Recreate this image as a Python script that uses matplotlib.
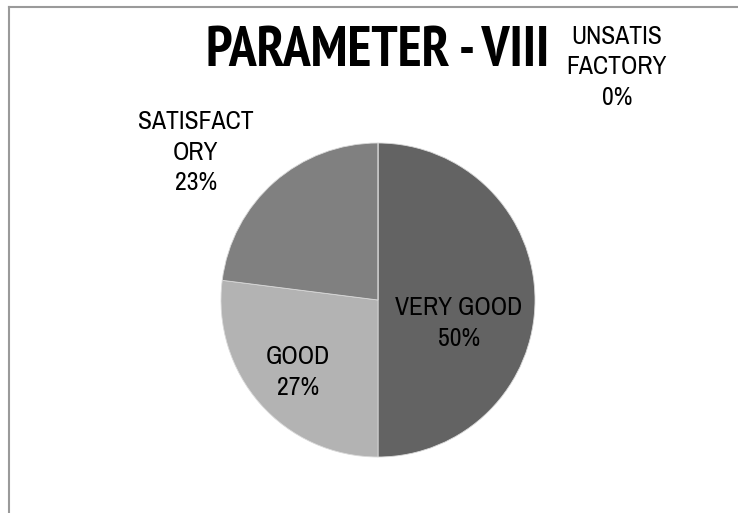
import matplotlib
matplotlib.use("Agg")
import matplotlib.pyplot as plt
from matplotlib.lines import Line2D

plt.rcParams['font.family'] = ['Archivo Narrow', 'PT Sans Narrow', 'Liberation Sans', 'DejaVu Sans']

title = "PARAMETER - VIII"
labels = ["VERY GOOD", "GOOD", "SATISFACTORY", "UNSATISFACTORY"]
label_text = ["VERY GOOD", "GOOD", "SATISFACT\nORY", "UNSATIS\nFACTORY"]
values = [50, 27, 23, 0]
colors = ["#636363", "#b3b3b3", "#808080", "#4a4a4a"]

W, H = 738, 513
fig = plt.figure(figsize=(W / 100, H / 100), dpi=100)
ax = fig.add_axes([0, 0, 1, 1])

# pie drawn in pixel units
cx, cy, r = 378, H - 300, 157
ax.pie(values, colors=colors, startangle=90, counterclock=False,
       center=(cx, cy), radius=r, frame=True,
       wedgeprops=dict(edgecolor='#d9d9d9', linewidth=0.6))
ax.set_xlim(0, W)
ax.set_ylim(0, H)
ax.set_aspect('equal')
ax.axis('off')

# label positions (pixels from top-left)
pos = [(459, 323), (298, 372), (196, 152), (617, 67)]
for txt, v, (px, py) in zip(label_text, values, pos):
    ax.text(px, H - py, f"{txt}\n{v}%", ha='center', va='center',
            fontsize=18.5, color='black', linespacing=1.4)

ax.text(378, H - 52, title, ha='center', va='center', fontsize=40,
        fontweight='bold', color='black',
        family=['PT Sans Narrow', 'Liberation Sans', 'DejaVu Sans'])

# chart area border (top and left only visible)
fig.add_artist(Line2D([8.5 / W, 1], [1 - 6.5 / H, 1 - 6.5 / H], transform=fig.transFigure,
                      color='#9a9a9a', linewidth=1.5))
fig.add_artist(Line2D([8.5 / W, 8.5 / W], [0, 1 - 6.5 / H], transform=fig.transFigure,
                      color='#9a9a9a', linewidth=1.5))

fig.savefig("out.png", dpi=100, facecolor='white')
